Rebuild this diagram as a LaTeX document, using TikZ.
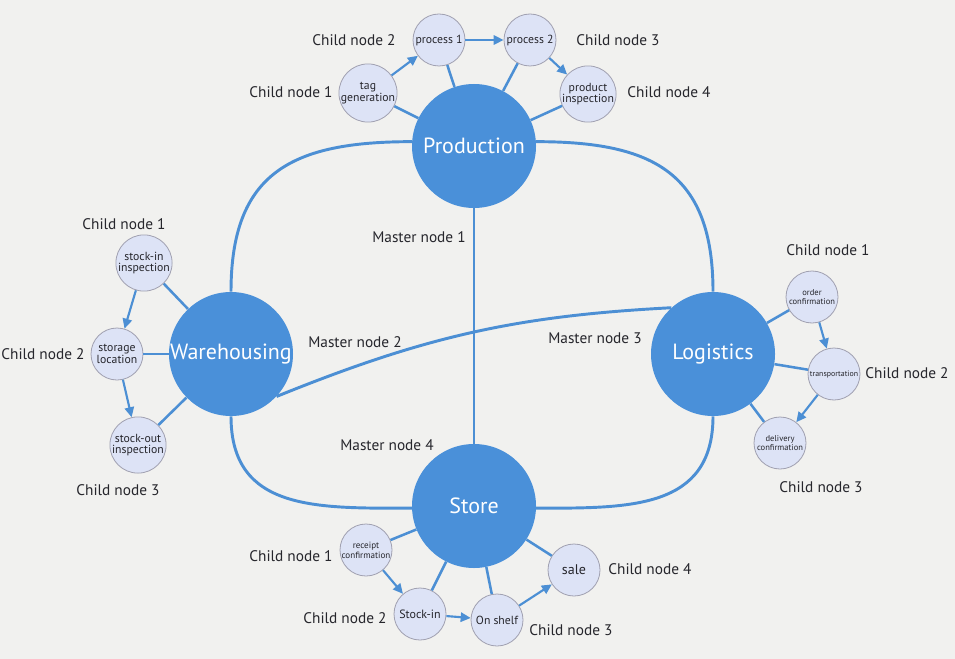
\documentclass[tikz,border=0pt]{standalone}
\usepackage{fontspec}
\setmainfont{PT Sans}
\usepackage{xcolor}
\usetikzlibrary{arrows.meta}
\definecolor{masterblue}{RGB}{74,144,217}
\definecolor{linkblue}{RGB}{76,143,212}
\definecolor{childfill}{RGB}{221,227,246}
\definecolor{childedge}{RGB}{160,160,176}
\definecolor{labelgray}{RGB}{38,38,44}
\definecolor{paperbg}{RGB}{241,241,239}
\tikzset{
  master/.style={circle, fill=masterblue, minimum size=93pt, inner sep=0pt, text=white, font=\fontsize{16.5}{18}\selectfont},
  child/.style={circle, draw=childedge, line width=0.6pt, fill=childfill, minimum size=39pt, inner sep=0pt, align=center, text=labelgray, font=\fontsize{8.8}{8.6}\selectfont},
  childlabel/.style={text=labelgray, font=\fontsize{11.5}{12}\selectfont},
  masterlabel/.style={text=labelgray, font=\fontsize{11.5}{12}\selectfont},
  link/.style={draw=linkblue, line width=2.2pt},
  spoke/.style={draw=linkblue, line width=1.9pt},
  flow/.style={draw=linkblue, line width=1.6pt, -{Triangle[length=7.5pt,width=7pt]}}
}
\begin{document}
\begin{tikzpicture}[x=0.75pt, y=-0.75pt]
    \fill[paperbg] (0,0) rectangle (955,659);
    \useasboundingbox (0,0) rectangle (955,659);

    % Master nodes
    \node[master] (prod) at (474,146) {Production};
    \node[master] (ware) at (231,354) {Warehousing};
    \node[master] (logi) at (713,354) {Logistics};
    \node[master] (store) at (474,506) {Store};

    % Master links
    \draw[link] (prod) -- (store);
    \draw[link] (prod.176) to[out=180, in=90, looseness=1.3] (ware.north);
    \draw[link] (prod.4) to[out=0, in=90, looseness=1.3] (logi.north);
    \draw[link] (ware.south) to[out=-90, in=180, looseness=1.2] (store.182);
    \draw[link] (logi.south) to[out=-90, in=0, looseness=1.2] (store.-2);
    \draw[link] (ware.-43) to[out=22, in=183] (logi.132);

    \node[masterlabel] (m1) at (419,237) {Master node 1};
    \node[masterlabel] (m2) at (355,342) {Master node 2};
    \node[masterlabel] (m3) at (595,338) {Master node 3};
    \node[masterlabel] (m4) at (387,445) {Master node 4};

    % Production children
    \node[child] (tagg) at (368,93) {tag\\generation};
    \node[child] (proc1) at (439,40) {process 1};
    \node[child] (proc2) at (530,40) {process 2};
    \node[child] (pinsp) at (588,94) {product\\inspection};
    \node[childlabel] (p1) at (291,92) {Child node 1};
    \node[childlabel] (p2) at (354,40) {Child node 2};
    \node[childlabel] (p3) at (618,40) {Child node 3};
    \node[childlabel] (p4) at (669,92) {Child node 4};
    \foreach \c in {tagg,proc1,proc2,pinsp}
        \draw[spoke] (\c) -- (prod);
    \draw[flow] (tagg) -- (proc1);
    \draw[flow] (proc1) -- (proc2);
    \draw[flow] (proc2) -- (pinsp);

    % Warehousing children
    \node[child] (stin) at (144,263) {stock-in\\inspection};
    \node[child] (stloc) at (117,354) {storage\\location};
    \node[child] (stout) at (138,445) {stock-out\\inspection};
    \node[childlabel] (w1) at (124,224) {Child node 1};
    \node[childlabel] (w2) at (43,354) {Child node 2};
    \node[childlabel] (w3) at (118,490) {Child node 3};
    \foreach \c in {stin,stloc,stout}
        \draw[spoke] (\c) -- (ware);
    \draw[flow] (stin) -- (stloc);
    \draw[flow] (stloc) -- (stout);

    % Logistics children
    \node[child, font=\fontsize{6.4}{7}\selectfont] (ordc) at (812,297) {order\\confirmation};
    \node[child, font=\fontsize{5.9}{6}\selectfont] (trans) at (834,374) {transportation};
    \node[child, font=\fontsize{6.4}{7}\selectfont] (delc) at (780,443) {delivery\\confirmation};
    \node[childlabel] (l1) at (828,250) {Child node 1};
    \node[childlabel] (l2) at (907,373) {Child node 2};
    \node[childlabel] (l3) at (821,487) {Child node 3};
    \foreach \c in {ordc,trans,delc}
        \draw[spoke] (\c) -- (logi);
    \draw[flow] (ordc) -- (trans);
    \draw[flow] (trans) -- (delc);

    % Store children
    \node[child, font=\fontsize{6.8}{7.4}\selectfont] (recc) at (366,550) {receipt\\confirmation};
    \node[child, font=\fontsize{9}{9}\selectfont] (stkin) at (420,614) {Stock-in};
    \node[child, font=\fontsize{8.8}{9}\selectfont] (shelf) at (497,620) {On shelf};
    \node[child, font=\fontsize{10.5}{11}\selectfont] (sale) at (574,570) {sale};
    \node[childlabel] (s1) at (291,556) {Child node 1};
    \node[childlabel] (s2) at (345,618) {Child node 2};
    \node[childlabel] (s3) at (571,630) {Child node 3};
    \node[childlabel] (s4) at (650,569) {Child node 4};
    \foreach \c in {recc,stkin,shelf,sale}
        \draw[spoke] (\c) -- (store);
    \draw[flow] (recc) -- (stkin);
    \draw[flow] (stkin) -- (shelf);
    \draw[flow] (shelf) -- (sale);
\end{tikzpicture}
\end{document}
